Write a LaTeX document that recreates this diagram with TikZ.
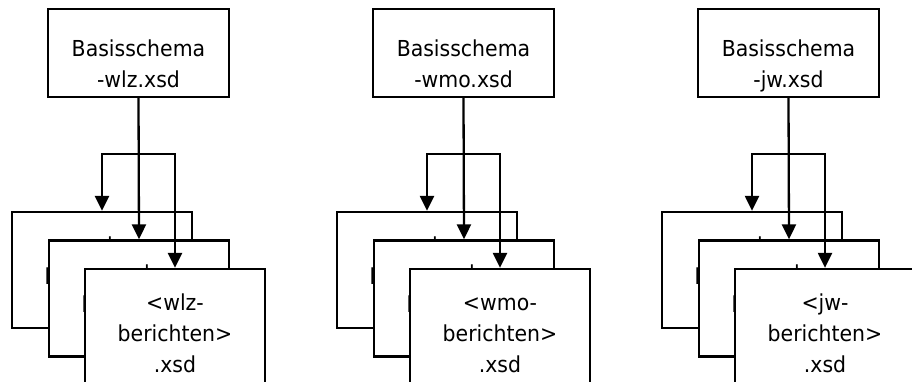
\documentclass[tikz,border=0pt]{standalone}
\usepackage{fontspec}
\setmainfont{DejaVu Sans}
\newfontfamily\boxfont[FakeStretch=0.93]{DejaVu Sans}
\usetikzlibrary{arrows.meta}
\tikzset{
  boxshape/.style={draw, line width=2.3pt, fill=white, rectangle, inner sep=0pt},
  topbox/.style={boxshape, minimum width=181pt, minimum height=88pt},
  filebox/.style={boxshape, minimum width=180pt, minimum height=116pt},
  boxtext/.style={align=center, inner sep=0pt, anchor=base, font=\boxfont\fontsize{22}{31}\selectfont},
  arr/.style={line width=2.3pt, -{Triangle[width=14pt,length=15pt]}},
}
\begin{document}
\begin{tikzpicture}[x=1pt,y=-1pt]
\useasboundingbox (0,0) rectangle (912,381);
\clip (0,0) rectangle (912,381);
\foreach \i/\n/\dx in {1/wlz/0, 2/wmo/325, 3/jw/650}{
  \node[topbox] (top\i) at (138.5+\dx,53) {};
  \node[boxtext] (tt\i) at (138.5+\dx,87) {Basisschema\\-\n.xsd};
  \node[filebox] (ba\i) at (102+\dx,270) {};
  \node[boxtext] (ta\i) at (102+\dx,315) {<wlz-\\berichten>\\.xsd};
  \node[filebox] (bb\i) at (139+\dx,298.5) {};
  \node[boxtext] (tb\i) at (139+\dx,343.5) {<wlz-\\berichten>\\.xsd};
  \node[filebox] (bc\i) at (175+\dx,327) {};
  \node[boxtext] (tc\i) at (175+\dx,372) {<\n-\\berichten>\\.xsd};
  \coordinate (j\i) at (138.5+\dx,154);
  \draw[arr] (top\i.south) -- (bb\i.north);
  \draw[arr] (j\i) -| (ba\i.north);
  \draw[arr] (j\i) -| (bc\i.north);
}
\end{tikzpicture}
\end{document}
